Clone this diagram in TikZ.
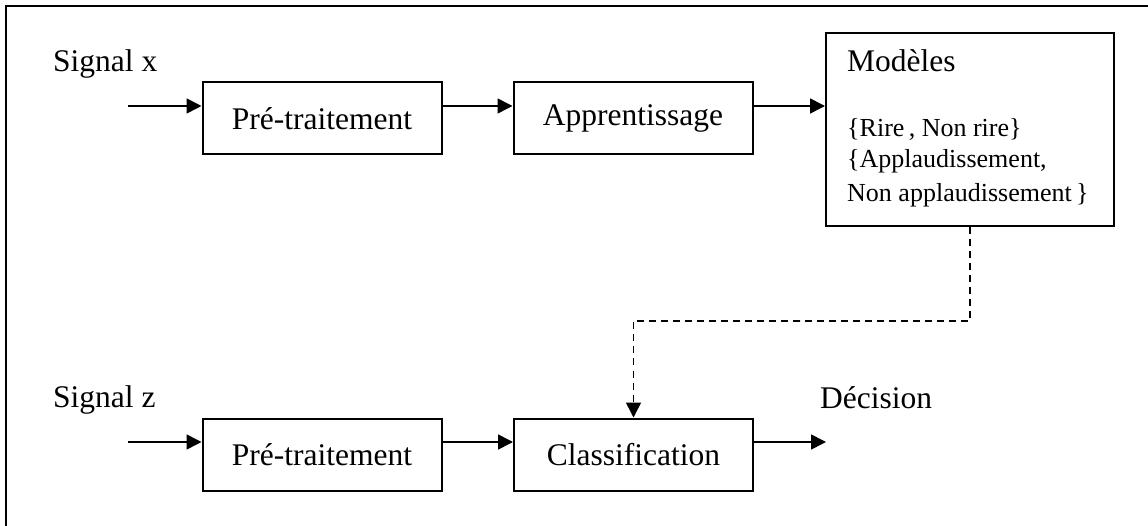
\documentclass[tikz,border=0pt]{standalone}
\usepackage{fontspec}
\setmainfont{Liberation Serif}
\usetikzlibrary{arrows.meta,calc}
\begin{document}
\begin{tikzpicture}[x=1pt,y=-1pt,
  blockbox/.style={draw,line width=2pt,inner sep=0pt,minimum width=239pt,minimum height=72pt,font=\fontsize{31.5}{36}\selectfont},
  lbl/.style={anchor=base west,inner sep=0pt,font=\fontsize{31.5}{36}\selectfont},
  small/.style={anchor=base west,inner sep=0pt,font=\fontsize{26}{30}\selectfont},
  arr/.style={line width=1.6pt,-{Triangle[length=15pt,width=15pt]}},
  darr/.style={line width=1.6pt,dash pattern=on 7pt off 5pt,-{Triangle[length=15pt,width=15pt]}}]
\useasboundingbox (0,0) rectangle (1148,526);
\clip (0,0) rectangle (1148,526);
\draw[line width=2.4pt] (6,6) rectangle (1170,560);
% top row
\node[blockbox] (b1) at (322,118.5) {Pré-traitement};
\node[blockbox] (b2) at (633,118.5) {Apprentissage};
\node[draw,line width=2pt,inner sep=0pt,minimum width=288pt,minimum height=193pt] (mod) at (970,129.5) {};
\node[lbl] (sx) at (53,72) {Signal x};
\node[lbl] (mt) at (847,72) {Modèles};
\node[small] (m1) at (847,137) {\{Rire\,, Non rire\}};
\node[small] (m2) at (847,168) {\{Applaudissement,};
\node[small] (m3) at (847,202) {Non applaudissement\,\}};
\coordinate (in1) at (128,106);
\draw[arr] (in1) -- (b1.west |- in1);
\draw[arr] (b1.east |- in1) -- (b2.west |- in1);
\draw[arr] (b2.east |- in1) -- (mod.west |- in1);
% bottom row
\node[blockbox] (b3) at (322,454.5) {Pré-traitement};
\node[blockbox] (cls) at (633.5,454.5) {Classification};
\node[lbl] (sz) at (53,407) {Signal z};
\node[lbl] (dec) at (820,408) {Décision};
\coordinate (in2) at (128,442);
\coordinate (out) at (826,442);
\draw[arr] (in2) -- (b3.west |- in2);
\draw[arr] (b3.east |- in2) -- (cls.west |- in2);
\draw[arr] (cls.east |- out) -- (out);
% dashed link
\coordinate (mid) at (800,321);
\draw[darr] (mod.south) |- (mid) -| (cls.north);
\end{tikzpicture}
\end{document}
